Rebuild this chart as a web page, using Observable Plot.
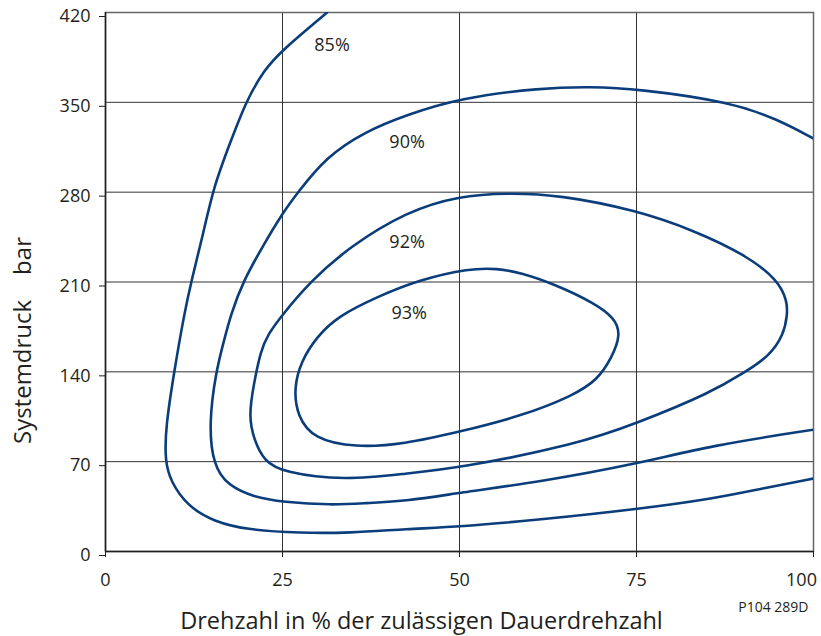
<!DOCTYPE html>
<html>
<head>
<meta charset="utf-8">
<script src="https://cdn.jsdelivr.net/npm/d3@7"></script>
<script src="https://cdn.jsdelivr.net/npm/@observablehq/plot@0.6"></script>
<style>
  html, body { margin: 0; padding: 0; background: #fff; }
  #chart { width: 821px; height: 636px; }
</style>
</head>
<body>
<div id="chart"></div>
<script>
// Axis ticks
const xTicks = [0, 25, 50, 75, 100];
const yTicks = [0, 70, 140, 210, 280, 350, 420];

// Efficiency iso-lines: [Drehzahl %, Systemdruck bar]
const eff85 = [[31.3,420],[25.0,390.9],[22.4,375.4],[19.8,350.2],[17.7,319.8],[15.3,284.8],[13.8,247.6],[12.1,210.2],[11.1,184.6],[9.7,140.2],[8.5,97.3],[8.4,70.5],[9.2,54.5],[11.6,35.3],[15.3,23.3],[20.1,16.8],[27.5,14.4],[34.4,14.4],[42.6,17.6],[49.9,19.2],[61.6,24.9],[75,32.9],[85.6,40.9],[92.6,48.9],[100,56.9]];
const eff90 = [[99.9,322.1],[95.0,336.5],[88.4,350.2],[75.0,360.6],[68.5,362.1],[61.6,361.3],[49.9,353.2],[42.6,340.3],[36.7,327.4],[31.2,307.6],[27.1,279.4],[25.0,263.5],[22.4,239.7],[19.4,210.2],[17.7,184.6],[16.7,163.6],[15.6,140.2],[14.6,99.7],[15.2,67.4],[17.3,51.3],[20.9,42.5],[25.0,38.5],[32.0,36.1],[36.7,37.7],[42.6,39.3],[49.9,45.7],[61.6,54.5],[75.0,68.2],[85.6,82.7],[100,94.9]];
const eff92 = [[21.9,155.8],[22.9,169.0],[25.0,184.6],[28.9,210.2],[34.4,237.3],[42.6,265.1],[49.9,277.1],[56.8,279.4],[64.1,277.9],[75.0,265.9],[83.2,250.0],[90.2,231.7],[95.0,211.8],[96.3,194.7],[96.3,184.6],[95.8,169.0],[93.7,151.9],[90.2,139.4],[85.6,124.0],[75.0,99.7],[66.6,83.5],[49.9,64.9],[42.6,60.9],[33.8,55.3],[25.0,61.7],[22.4,70.6],[21.0,86.8],[20.2,105.4],[21.0,132.1]];
const eff93 = [[51.4,220.6],[55.3,220.6],[58.7,217.2],[63.6,207.9],[69.0,193.7],[71.9,182.0],[72.8,169.0],[71.5,150.9],[69.5,133.8],[66.1,121.6],[58.7,105.4],[50.0,93.3],[42.1,83.6],[35.3,81.0],[29.4,87.7],[27.1,105.4],[26.6,127.0],[27.6,148.2],[29.9,167.7],[32.8,183.2],[38.5,198.8],[44.4,211.8]];

// Curve labels
const labelText = ["85%", "90%", "92%", "93%"];
const labelSpeed = [32.0, 42.6, 42.6, 42.9];
const labelPressure = [394.6, 319.0, 241.3, 185.9];

const xTitle = "Drehzahl in % der zulässigen Dauerdrehzahl";
const yTitle = "Systemdruck\u00a0\u00a0\u00a0\u00a0bar";
const codeNote = "P104 289D";

const labels = labelText.map((t, i) => ({t, x: labelSpeed[i], y: labelPressure[i]}));

const lineColor = "#0b3d7b";
const ink = "#231f20";

const chart = Plot.plot({
  width: 821,
  height: 636,
  marginLeft: 105,
  marginRight: 8,
  marginTop: 12,
  marginBottom: 85,
  style: {fontFamily: "'Open Sans', sans-serif", background: "#fff", color: ink},
  x: {domain: [0, 100]},
  y: {domain: [0, 420]},
  marks: [
    Plot.gridX([25, 50, 75], {stroke: "#333", strokeOpacity: 1, strokeWidth: 1}),
    Plot.gridY([70, 140, 210, 280, 350], {stroke: "#333", strokeOpacity: 1, strokeWidth: 1}),
    Plot.frame({stroke: "#666", strokeWidth: 1.5}),
    Plot.ruleX([0], {stroke: ink, strokeWidth: 1.5}),
    Plot.ruleY([0], {stroke: ink, strokeWidth: 1.5}),
    Plot.axisY(yTicks, {tickSize: 6, tickPadding: 9, fontSize: 18, dy: 4, label: null, stroke: ink, fill: ink}),
    Plot.axisX(xTicks, {tickSize: 6, tickPadding: 16, fontSize: 18, label: null, stroke: ink, fill: ink,
      tickFormat: d => d === 100 ? "" : String(d)}),
    Plot.axisX([100], {tickSize: 0, tickPadding: 22, fontSize: 18, label: null, fill: ink, dx: -12}),
    Plot.line(eff85, {x: d => d[0], y: d => d[1], curve: "basis", stroke: lineColor, strokeWidth: 2.6, clip: true}),
    Plot.line(eff90, {x: d => d[0], y: d => d[1], curve: "basis", stroke: lineColor, strokeWidth: 2.6, clip: true}),
    Plot.line(eff92, {x: d => d[0], y: d => d[1], curve: "basis-closed", stroke: lineColor, strokeWidth: 2.6}),
    Plot.line(eff93, {x: d => d[0], y: d => d[1], curve: "basis-closed", stroke: lineColor, strokeWidth: 2.6}),
    Plot.text(labels, {x: "x", y: "y", text: "t", fontSize: 18, fill: ink}),
    Plot.text([xTitle], {frameAnchor: "bottom", dx: -38, dy: 77, fontSize: 23.5, fill: ink}),
    Plot.text([yTitle], {frameAnchor: "left", rotate: -90, dx: -82, dy: 162, fontSize: 24, fill: ink}),
    Plot.text([codeNote], {frameAnchor: "bottom-right", textAnchor: "end", dx: -5, dy: 60, fontSize: 14, fill: ink})
  ]
});
document.getElementById("chart").appendChild(chart);
</script>
</body>
</html>
